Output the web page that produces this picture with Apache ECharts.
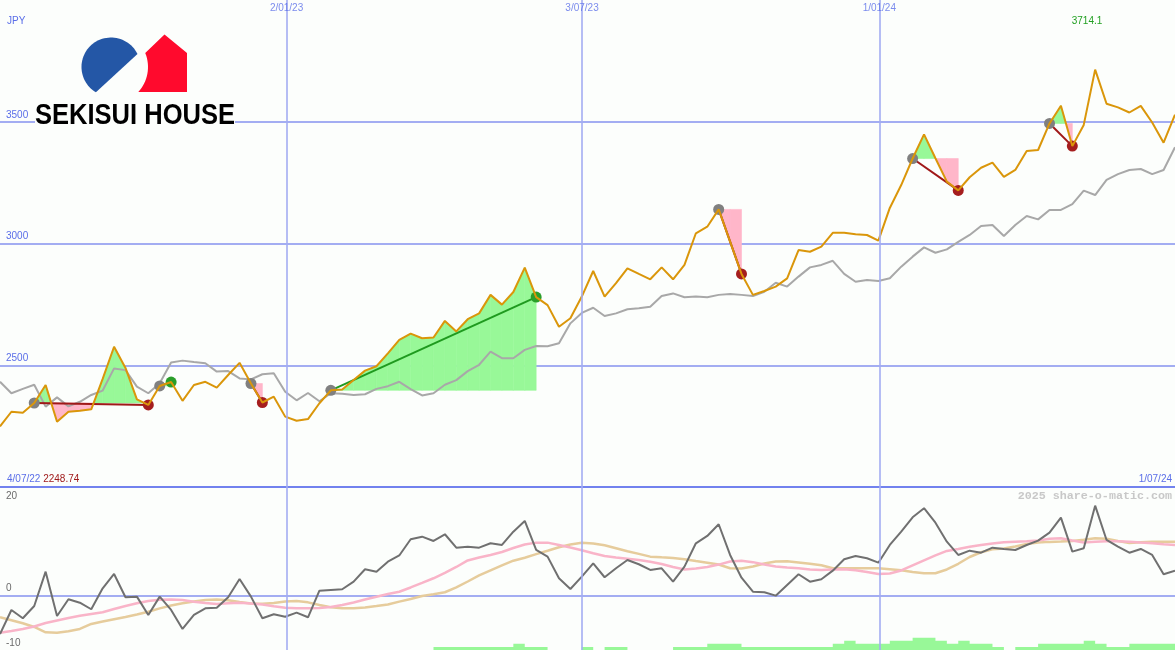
<!DOCTYPE html>
<html><head><meta charset="utf-8">
<script src="https://cdn.jsdelivr.net/npm/echarts@6/dist/echarts.min.js"></script>
<style>html,body{margin:0;padding:0;background:#fcfefc}#c{width:1175px;height:650px}</style>
</head><body><div id="c"></div><script>
// ---------- data (weekly points, index 0 = 4/07/22) ----------
const price = [2248.74, 2309, 2305, 2345, 2419, 2268, 2309, 2313, 2319, 2444,
 2576, 2489, 2360, 2337, 2415, 2431, 2354, 2419, 2432, 2408,
 2460, 2510, 2425, 2347, 2371, 2289, 2272, 2279, 2344, 2397,
 2400, 2439, 2478, 2496, 2549, 2604, 2630, 2611, 2614, 2682,
 2639, 2689, 2713, 2789, 2749, 2801, 2901, 2780, 2747, 2658,
 2693, 2782, 2887, 2782, 2837, 2898, 2875, 2853, 2902, 2853,
 2912, 3042, 3069, 3140, 3008, 2875, 2789, 2805, 2823, 2857,
 2973, 2966, 2987, 3044, 3044, 3038, 3035, 3012, 3146, 3240,
 3349, 3448, 3350, 3254, 3218, 3272, 3311, 3332, 3274, 3302,
 3380, 3384, 3493, 3566, 3400, 3487, 3714.1, 3574, 3559, 3538,
 3565, 3497, 3414, 3529];
const gray = [2432, 2385, 2403, 2420, 2330, 2368, 2331, 2350, 2378, 2396,
 2487, 2480, 2412, 2385, 2426, 2511, 2519, 2513, 2508, 2474,
 2476, 2446, 2442, 2463, 2467, 2391, 2356, 2386, 2352, 2385,
 2383, 2378, 2381, 2403, 2414, 2432, 2402, 2376, 2385, 2420,
 2439, 2476, 2502, 2556, 2529, 2529, 2563, 2579, 2578, 2590,
 2672, 2715, 2736, 2702, 2713, 2730, 2734, 2740, 2784, 2795,
 2779, 2782, 2779, 2789, 2793, 2789, 2784, 2802, 2839, 2823,
 2864, 2902, 2912, 2929, 2875, 2843, 2850, 2846, 2857, 2905,
 2946, 2984, 2962, 2976, 3007, 3035, 3072, 3076, 3031, 3076,
 3113, 3099, 3138, 3138, 3162, 3217, 3199, 3261, 3285, 3302,
 3306, 3285, 3302, 3395];
const osc = [-7.05, -2.63, -4.16, -1.9, 4.42, -3.74, -0.66, -1.29, -2.5, 1.36,
 3.99, -0.29, -0.18, -3.55, -0.18, -2.63, -6.13, -3.55, -2.32, -2.21,
 -0.29, 3.07, -0.18, -4.16, -3.42, -3.87, -3.13, -3.98, 0.92, 1.05,
 1.18, 2.58, 4.86, 4.42, 6.26, 7.4, 10.38, 10.86, 10.07, 11.3,
 8.83, 9.02, 8.83, 9.64, 9.33, 11.78, 13.75, 8.41, 7.18, 3.2,
 1.23, 3.5, 5.96, 3.39, 5.04, 6.57, 5.78, 4.73, 5.04, 2.58,
 5.34, 9.64, 10.99, 13.14, 7.49, 3.31, 0.74, 0.63, 0, 1.97,
 3.94, 2.58, 3.02, 4.6, 6.7, 7.31, 6.88, 6.07, 9.33, 11.78,
 14.43, 16.09, 13.44, 9.94, 7.49, 8.28, 7.91, 8.83, 8.6, 8.41,
 9.33, 10.12, 11.6, 14.36, 8.1, 8.72, 16.57, 10.25, 9.02, 7.91,
 8.6, 7.49, 3.94, 4.6];
const pinkMA = [-6.81, -6.5, -6.13, -5.67, -5.02, -4.56, -4.1, -3.68, -3.37, -3.06,
 -2.45, -1.9, -1.4, -0.98, -0.74, -0.7, -0.79, -1.12, -1.34, -1.53,
 -1.38, -1.31, -1.42, -1.62, -1.95, -2.23, -2.3, -2.32, -2.26, -2.08,
 -1.71, -1.25, -0.7, -0.2, 0.31, 0.72, 1.51, 2.34, 3.2, 4.18,
 5.28, 6.48, 7.03, 7.49, 8.04, 8.78, 9.42, 9.76, 9.76, 9.33,
 8.87, 8.36, 7.8, 7.31, 7.01, 6.79, 6.57, 6.26, 5.83, 5.28,
 4.82, 4.99, 5.28, 5.72, 6.29, 6.42, 6.17, 5.74, 5.37, 5.17,
 5.04, 4.8, 4.73, 4.82, 4.84, 4.66, 4.36, 3.99, 4.07, 4.64,
 5.56, 6.48, 7.4, 8.23, 8.6, 9.0, 9.33, 9.61, 9.83, 9.92,
 10.01, 10.16, 10.47, 10.57, 10.16, 9.79, 9.94, 10.01, 10.03, 9.92,
 9.77, 9.66, 9.48, 9.33];
const tanMA = [-3.98, -4.53, -5.08, -5.76, -6.74, -6.81, -6.55, -6.13, -5.21, -4.75,
 -4.33, -3.92, -3.46, -2.96, -2.34, -1.8, -1.4, -1.09, -0.79, -0.7,
 -0.83, -1.16, -1.44, -1.49, -1.34, -1.07, -0.98, -1.23, -1.71, -2.12,
 -2.32, -2.32, -2.17, -1.9, -1.62, -1.1, -0.61, -0.06, 0.26, 0.63,
 1.51, 2.61, 3.72, 4.64, 5.56, 6.44, 6.99, 7.64, 8.26, 8.91,
 9.42, 9.72, 9.61, 9.28, 8.74, 8.19, 7.69, 7.18, 7.05, 6.94,
 6.72, 6.39, 6.07, 5.74, 5.04, 5.01, 5.36, 5.93, 6.29, 6.33,
 6.11, 5.87, 5.61, 5.06, 5.04, 5.04, 5.04, 5.04, 4.88, 4.66,
 4.36, 4.12, 4.12, 4.82, 5.87, 7.12, 7.99, 8.52, 8.69, 9.06,
 9.52, 9.79, 9.9, 9.96, 10.07, 10.29, 10.57, 10.47, 10.07, 9.7,
 9.85, 9.94, 9.94, 9.94];
const bars = [0,0,0,0,0,0,0,0,0,0,
 0,0,0,0,0,0,0,0,0,0,
 0,0,0,0,0,0,0,0,0,0,
 0,0,0,0,0,0,0,0,1,1,
 1,1,1,1,1,2,1,1,0,0,
 0,1,0,1,1,0,0,0,0,1,
 1,1,2,2,2,1,1,1,1,1,
 1,1,1,2,3,2,2,2,3,3,
 4,4,3,2,3,2,2,1,0,1,
 1,2,2,2,2,3,2,1,1,2,
 2,2,2,2];
const sigStart = [3, 14, 22, 29, 63, 80, 92];
const sigEnd   = [13, 15, 23, 47, 65, 84, 94];
const dateLineIdx = [25.12, 51.02, 77.08];
const dateLabels = ['2/01/23', '3/07/23', '1/01/24'];
const firstDate = '4/07/22', lastDate = '1/07/24';
const priceTickLabels = ['2500', '3000', '3500'];
const oscTickLabels = ['-10', '0', '20'];
const currency = 'JPY';
const brand = 'SEKISUI HOUSE';
const watermark = '2025 share-o-matic.com';

// ---------- styles ----------
const BG = '#fcfefc';
const BLUE_TXT = '#5a6ee8', GRID = '#a3adf2', SEP = '#7282ee';
const GREEN_FILL = '#98f898', PINK_FILL = '#ffb6c9';
const FONT = 'Liberation Sans';

const pair = arr => arr.map((v, i) => [i, v]);
const N = price.length;
const priceMin = Math.min(...price), priceMax = Math.max(...price);

function renderFill(params, api) {
  const k = params.dataIndex, s = sigStart[k], e = sigEnd[k], base = price[s];
  const children = [];
  for (let j = s; j < e; j++) {
    const a = price[j] - base, b = price[j + 1] - base;
    let segs;
    if (a * b < 0) { const t = a / (a - b); segs = [[j, a, j + t, 0, a > 0], [j + t, 0, j + 1, b, b > 0]]; }
    else segs = [[j, a, j + 1, b, (a + b) >= 0]];
    for (const [x0, d0, x1, d1, up] of segs) {
      if (d0 === 0 && d1 === 0) continue;
      const pts = [[x0, base], [x0, base + d0], [x1, base + d1], [x1, base]].map(p => api.coord(p));
      const c = up ? GREEN_FILL : PINK_FILL;
      children.push({ type: 'polygon', shape: { points: pts }, style: { fill: c, stroke: c, lineWidth: 0.6 } });
    }
  }
  return { type: 'group', children };
}
function renderSignal(params, api) {
  const k = params.dataIndex, s = sigStart[k], e = sigEnd[k];
  const p0 = api.coord([s, price[s]]), p1 = api.coord([e, price[e]]);
  const up = price[e] > price[s];
  return { type: 'group', children: [
    { type: 'line', shape: { x1: p0[0], y1: p0[1], x2: p1[0], y2: p1[1] }, style: { stroke: up ? '#1f9a1f' : '#a01818', lineWidth: 2 } },
    { type: 'circle', shape: { cx: p0[0], cy: p0[1], r: 5.5 }, style: { fill: '#808080' } },
    { type: 'circle', shape: { cx: p1[0], cy: p1[1], r: 5.5 }, style: { fill: up ? '#2a9e2a' : '#a51e1e' } }
  ] };
}
const sigData = sigStart.map((s, k) => [s, sigEnd[k], price[s], price[sigEnd[k]]]);

// logo shapes
const bluePts = [];
for (let a = 120.7; a <= 333.9; a += 4) { const r = a * Math.PI / 180; bluePts.push([111 + 29.5 * Math.cos(r), 67 + 29.5 * Math.sin(r)]); }
{ const r = 333.9 * Math.PI / 180; bluePts.push([111 + 29.5 * Math.cos(r), 67 + 29.5 * Math.sin(r)]); }
const redPts = [];
for (let a = 42.5; a >= -22.3; a -= 4) { const r = a * Math.PI / 180; redPts.push([111 + 37 * Math.cos(r), 67 + 37 * Math.sin(r)]); }
redPts.push([111 + 37 * Math.cos(-22.3 * Math.PI / 180), 67 + 37 * Math.sin(-22.3 * Math.PI / 180)]);
redPts.push([164.5, 34.5], [187, 53], [187, 92]);
const brandFont = 'bold 29px "Liberation Sans"';
const mctx = document.createElement('canvas').getContext('2d'); mctx.font = brandFont;
const brandScale = 200 / mctx.measureText(brand).width;

const dateMarkLine = {
  silent: true, symbol: ['none', 'none'], label: { show: false },
  lineStyle: { color: GRID, width: 1.6, type: 'solid' },
  data: dateLineIdx.map(v => ({ xAxis: v }))
};

const chart = echarts.init(document.getElementById('c'), null, { renderer: 'canvas' });
chart.setOption({
  backgroundColor: BG,
  animation: false,
  grid: [
    { left: 0, right: 0, top: 0, height: 487, outerBoundsMode: 'none' },
    { left: 0, right: 0, top: 487, height: 163, outerBoundsMode: 'none' }
  ],
  xAxis: [
    { type: 'value', gridIndex: 0, min: 0, max: N - 1, axisLine: { show: true, onZero: false, lineStyle: { color: SEP, width: 2 } },
      axisTick: { show: false }, axisLabel: { show: false }, splitLine: { show: false } },
    { type: 'value', gridIndex: 1, min: 0, max: N - 1, show: false, splitLine: { show: false } }
  ],
  yAxis: [
    { type: 'value', gridIndex: 0, min: 2000, max: 4000, interval: 500, position: 'left',
      axisLine: { show: false }, axisTick: { show: false },
      axisLabel: { inside: true, margin: 6, align: 'left', verticalAlign: 'bottom', padding: [0, 0, 2, 0],
        color: BLUE_TXT, fontSize: 10, fontFamily: FONT,
        formatter: v => priceTickLabels.includes(String(v)) ? String(v) : '' },
      splitLine: { show: true, showMinLine: false, showMaxLine: false, lineStyle: { color: GRID, width: 2 } } },
    { type: 'value', gridIndex: 1, min: -10, max: 20, interval: 10, position: 'left',
      axisLine: { show: false }, axisTick: { show: false },
      axisLabel: { inside: true, margin: 6, align: 'left', verticalAlign: 'bottom', padding: [0, 0, 2, 0],
        color: '#6a6a6a', fontSize: 10, fontFamily: FONT,
        formatter: v => (v <= 0 && oscTickLabels.includes(String(v))) ? String(v) : '' },
      splitLine: { show: true, showMinLine: false, showMaxLine: false, lineStyle: { color: [GRID, 'rgba(0,0,0,0)'], width: 2 } } },
    { type: 'value', gridIndex: 1, min: -10, max: 20, interval: 10, position: 'left', offset: 0,
      axisLine: { show: false }, axisTick: { show: false }, splitLine: { show: false },
      axisLabel: { inside: true, margin: 6, align: 'left', verticalAlign: 'top', padding: [4, 0, 0, 0],
        color: '#6a6a6a', fontSize: 10, fontFamily: FONT,
        formatter: v => (v > 0 && oscTickLabels.includes(String(v))) ? String(v) : '' } },
    { type: 'value', gridIndex: 1, min: 0, max: 53, show: false, splitLine: { show: false } }
  ],
  series: [
    { type: 'custom', name: 'fills', xAxisIndex: 0, yAxisIndex: 0, z: 1, silent: true,
      renderItem: renderFill, data: sigData, encode: { x: [0, 1], y: [2, 3] } },
    { type: 'line', name: 'avg', xAxisIndex: 0, yAxisIndex: 0, z: 2, data: pair(gray), symbol: 'none', silent: true,
      lineStyle: { color: '#a8a8a8', width: 2 }, markLine: dateMarkLine },
    { type: 'custom', name: 'signals', xAxisIndex: 0, yAxisIndex: 0, z: 3, silent: true,
      renderItem: renderSignal, data: sigData, encode: { x: [0, 1], y: [2, 3] } },
    { type: 'line', name: 'price', xAxisIndex: 0, yAxisIndex: 0, z: 4, data: pair(price), symbol: 'none', silent: true,
      lineStyle: { color: '#da960a', width: 2 } },
    { type: 'scatter', name: 'dates', xAxisIndex: 0, yAxisIndex: 0, z: 5, symbolSize: 1, silent: true,
      itemStyle: { color: 'rgba(0,0,0,0)' },
      data: dateLineIdx.map((v, i) => [v, 4000, dateLabels[i]]),
      label: { show: true, position: 'bottom', distance: 3, formatter: p => p.data[2], color: BLUE_TXT, fontSize: 10, fontFamily: FONT } },
    { type: 'line', name: 'vol', xAxisIndex: 1, yAxisIndex: 3, z: 1, step: 'end', data: pair(bars), symbol: 'none', silent: true,
      lineStyle: { width: 0, opacity: 0 }, areaStyle: { color: GREEN_FILL, opacity: 1 } },
    { type: 'line', name: 'tan', xAxisIndex: 1, yAxisIndex: 1, z: 2, data: pair(tanMA), symbol: 'none', silent: true,
      lineStyle: { color: '#e6cc9c', width: 2.5 }, markLine: dateMarkLine },
    { type: 'line', name: 'pink', xAxisIndex: 1, yAxisIndex: 1, z: 3, data: pair(pinkMA), symbol: 'none', silent: true,
      lineStyle: { color: '#f9b4c8', width: 2.5 } },
    { type: 'line', name: 'osc', xAxisIndex: 1, yAxisIndex: 1, z: 4, data: pair(osc), symbol: 'none', silent: true,
      lineStyle: { color: '#707070', width: 2 } }
  ],
  graphic: [
    { type: 'rect', shape: { x: 35, y: 100, width: 200, height: 28 }, style: { fill: BG }, silent: true, z: 10 },
    { type: 'polygon', shape: { points: bluePts }, style: { fill: '#2457a6' }, silent: true, z: 11 },
    { type: 'polygon', shape: { points: redPts }, style: { fill: '#ff0a2d' }, silent: true, z: 11 },
    { type: 'text', x: 35, y: 116, scaleX: brandScale, silent: true, z: 11,
      style: { x: 0, y: 0, text: brand, font: brandFont, fill: '#000000', verticalAlign: 'middle' } },
    { type: 'text', x: 7, y: 21, silent: true,
      style: { text: currency, fontSize: 10, fontFamily: FONT, fill: BLUE_TXT, verticalAlign: 'middle' } },
    { type: 'text', x: 7, y: 479, silent: true,
      style: { text: '{a|' + firstDate + '} {b|' + String(priceMin) + '}', fontSize: 10, fontFamily: FONT, verticalAlign: 'middle',
        rich: { a: { fill: BLUE_TXT, fontSize: 10, fontFamily: FONT }, b: { fill: '#a01c1c', fontSize: 10, fontFamily: FONT } } } },
    { type: 'text', x: 1172, y: 479, silent: true,
      style: { text: lastDate, fontSize: 10, fontFamily: FONT, fill: BLUE_TXT, align: 'right', verticalAlign: 'middle' } },
    { type: 'text', x: 1087, y: 21, silent: true,
      style: { text: String(priceMax), fontSize: 10, fontFamily: FONT, fill: '#22a022', align: 'center', verticalAlign: 'middle' } },
    { type: 'text', x: 1172, y: 496, silent: true,
      style: { text: watermark, font: 'bold 11.7px "Liberation Mono"', fill: '#c8c8c8', align: 'right', verticalAlign: 'middle' } }
  ]
});
</script></body></html>
